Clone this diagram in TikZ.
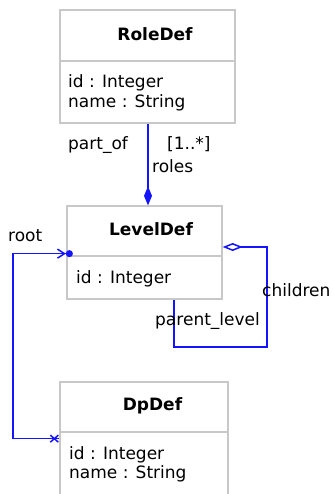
\documentclass[tikz,border=0pt]{standalone}
\usepackage{fontspec}
\setmainfont{DejaVu Sans}
\usetikzlibrary{arrows.meta}

\begin{document}
\begin{tikzpicture}[x=1pt,y=1pt,yscale=-1,xscale=1,
    every node/.style={font=\fontsize{17}{20}\selectfont},
    classbox/.style={draw={rgb, 255:red, 200; green, 200; blue, 200}, line width=1.3pt, inner sep=0pt},
    classtitle/.style={inner sep=0pt, font=\fontsize{17}{20}\selectfont\bfseries},
    attr/.style={anchor=base west, inner sep=0pt},
    rolelabel/.style={anchor=base west, inner sep=0pt},
    assoc/.style={draw={rgb, 255:red, 20; green, 20; blue, 255}, line width=1.5pt}]
                \useasboundingbox (0,0) rectangle (333,494);
                \clip (0,0) rectangle (333,494);
                %Shape: Class RoleDef
                \node[classbox, minimum width=175pt, minimum height=51pt] (rolehead) at (147.5,35.5) {};
                \node[classbox, minimum width=175pt, minimum height=62pt] (rolebody) at (147.5,92) {};
                \node[classtitle] (roletitle) at (155,34.5) {RoleDef};
                \node[attr] (roleid) at (68,87.5) {id : Integer};
                \node[attr] (rolename) at (68,107.5) {name : String};
                %Shape: Class LevelDef
                \node[classbox, minimum width=155pt, minimum height=50pt] (levelhead) at (144.5,231) {};
                \node[classbox, minimum width=155pt, minimum height=43pt] (levelbody) at (144.5,277.5) {};
                \node[classtitle] (leveltitle) at (151,229) {LevelDef};
                \node[attr] (levelid) at (76,283) {id : Integer};
                %Shape: Class DpDef
                \node[classbox, minimum width=168pt, minimum height=50pt] (dphead) at (144,407) {};
                \node[classbox, minimum width=168pt, minimum height=80pt] (dpbody) at (144,472) {};
                \node[classtitle] (dptitle) at (152.5,405.5) {DpDef};
                \node[attr] (dpid) at (69,459) {id : Integer};
                \node[attr] (dpname) at (69,478) {name : String};

                %Connector: roles / part_of
                \coordinate (rolepart) at ([shift={(0.5,0)}]rolebody.south);
                \draw[assoc, -{Diamond[length=19pt, width=8pt]}] (rolepart) -- (rolepart |- levelhead.north);
                % Text Node
                \node[rolelabel] (partof) at (68,150) {part\_of};
                \node[rolelabel] (rolemult) at (167,150) {[1..*]};
                \node[rolelabel] (roles) at (152,173) {roles};

                %Connector: root
                \coordinate (dproot) at ([shift={(0,6)}]dphead.south west);
                \coordinate (levelroot) at ([shift={(6.5,-3)}]levelhead.south west);
                \coordinate (rootleft) at (13,0);
                \draw[assoc, -{Straight Barb[length=7pt, width=9pt] Circle[length=7pt]}] (dproot) -| (rootleft |- levelroot) -- (levelroot);
                \draw[assoc] ([shift={(-9,-3.5)}]dproot) -- ([shift={(-1,3.5)}]dproot);
                \draw[assoc] ([shift={(-9,3.5)}]dproot) -- ([shift={(-1,-3.5)}]dproot);
                % Text Node
                \node[rolelabel] (root) at (8,241.5) {root};

                %Connector: children / parent_level
                \coordinate (levelchild) at ([shift={(0,16)}]levelhead.east);
                \coordinate (levelparent) at ([shift={(29.5,0)}]levelbody.south);
                \coordinate (loopcorner) at (267,347);
                \draw[assoc, {Diamond[open, length=20pt, width=8pt]}-] (levelchild) -| (loopcorner) -| (levelparent);
                % Text Node
                \node[rolelabel] (children) at (262,296.5) {children};
                \node[rolelabel] (parentlevel) at (155,325) {parent\_level};
\end{tikzpicture}
\end{document}
